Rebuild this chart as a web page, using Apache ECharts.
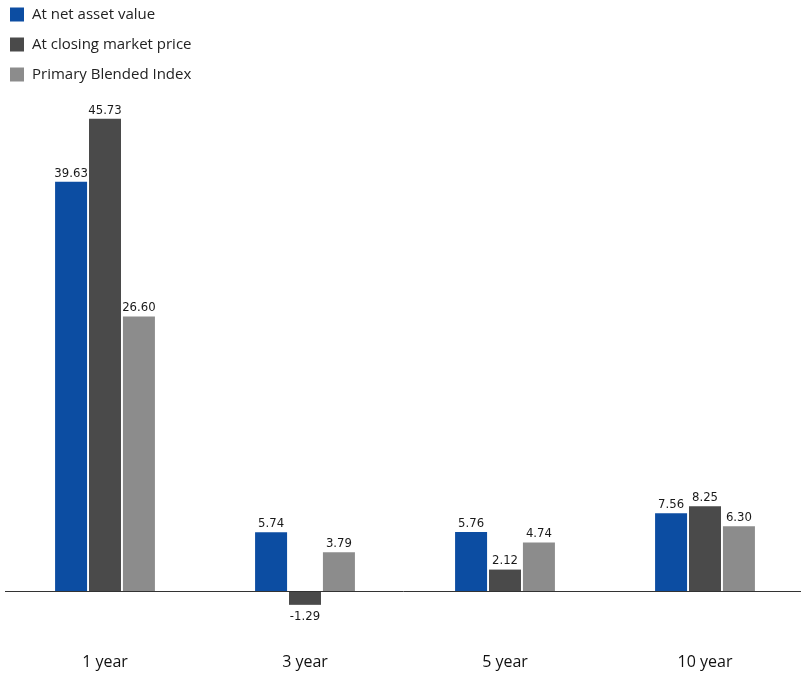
<!DOCTYPE html>
<html><head><meta charset="utf-8">
<script src="https://cdn.jsdelivr.net/npm/echarts@6/dist/echarts.min.js"></script>
<style>html,body{margin:0;padding:0;background:#fff}#c{width:801px;height:673px}</style>
</head><body><div id="c"></div>
<script>
const categories = ['1 year', '3 year', '5 year', '10 year'];
const seriesNames = ['At net asset value', 'At closing market price', 'Primary Blended Index'];
const navValues = [39.63, 5.74, 5.76, 7.56];
const marketValues = [45.73, -1.29, 2.12, 8.25];
const indexValues = [26.60, 3.79, 4.74, 6.30];
const colors = ['#0c4da2', '#4a4a4a', '#8c8c8c'];

const condensed = '"Liberation Sans Narrow", "DejaVu Sans Condensed", Roboto, sans-serif';
const mainFont = '"Open Sans", "Noto Sans", sans-serif';

const chart = echarts.init(document.getElementById('c'));
function mk(name, data, color) {
  return {
    name, type: 'bar', data, barWidth: 32, barGap: '6%',
    itemStyle: { color },
    label: {
      show: true, position: 'top', distance: 2,
      formatter: p => p.value.toFixed(2),
      fontFamily: condensed, fontSize: 13, color: '#1a1a1a'
    }
  };
}
const s = [mk(seriesNames[0], navValues, colors[0]), mk(seriesNames[1], marketValues, colors[1]), mk(seriesNames[2], indexValues, colors[2])];
s[1].data = marketValues.map(v => v < 0 ? { value: v, label: { position: 'bottom', distance: 5 } } : v);
s[0].markLine = {
  silent: true, symbol: 'none', label: { show: false },
  lineStyle: { color: '#333', width: 1, type: 'solid' },
  data: [{ yAxis: 0 }]
};

chart.setOption({
  animation: false,
  legend: {
    orient: 'vertical', left: 5, top: 2, itemWidth: 14, itemHeight: 14, itemGap: 15,
    icon: 'rect', selectedMode: false,
    textStyle: { fontFamily: mainFont, fontSize: 15, color: '#222', padding: [0, 0, 0, 3] },
    data: seriesNames
  },
  grid: { left: 5, width: 800, top: 74.5, bottom: 29.8, containLabel: false, outerBoundsMode: 'none' },
  xAxis: {
    type: 'category', data: categories,
    axisLine: { show: false, onZero: false },
    axisTick: { show: false },
    axisLabel: { margin: 11, fontFamily: mainFont, fontSize: 16, color: '#111' }
  },
  yAxis: {
    type: 'value', min: -5, max: 50, show: false, splitLine: { show: false }
  },
  series: s
});
</script></body></html>
